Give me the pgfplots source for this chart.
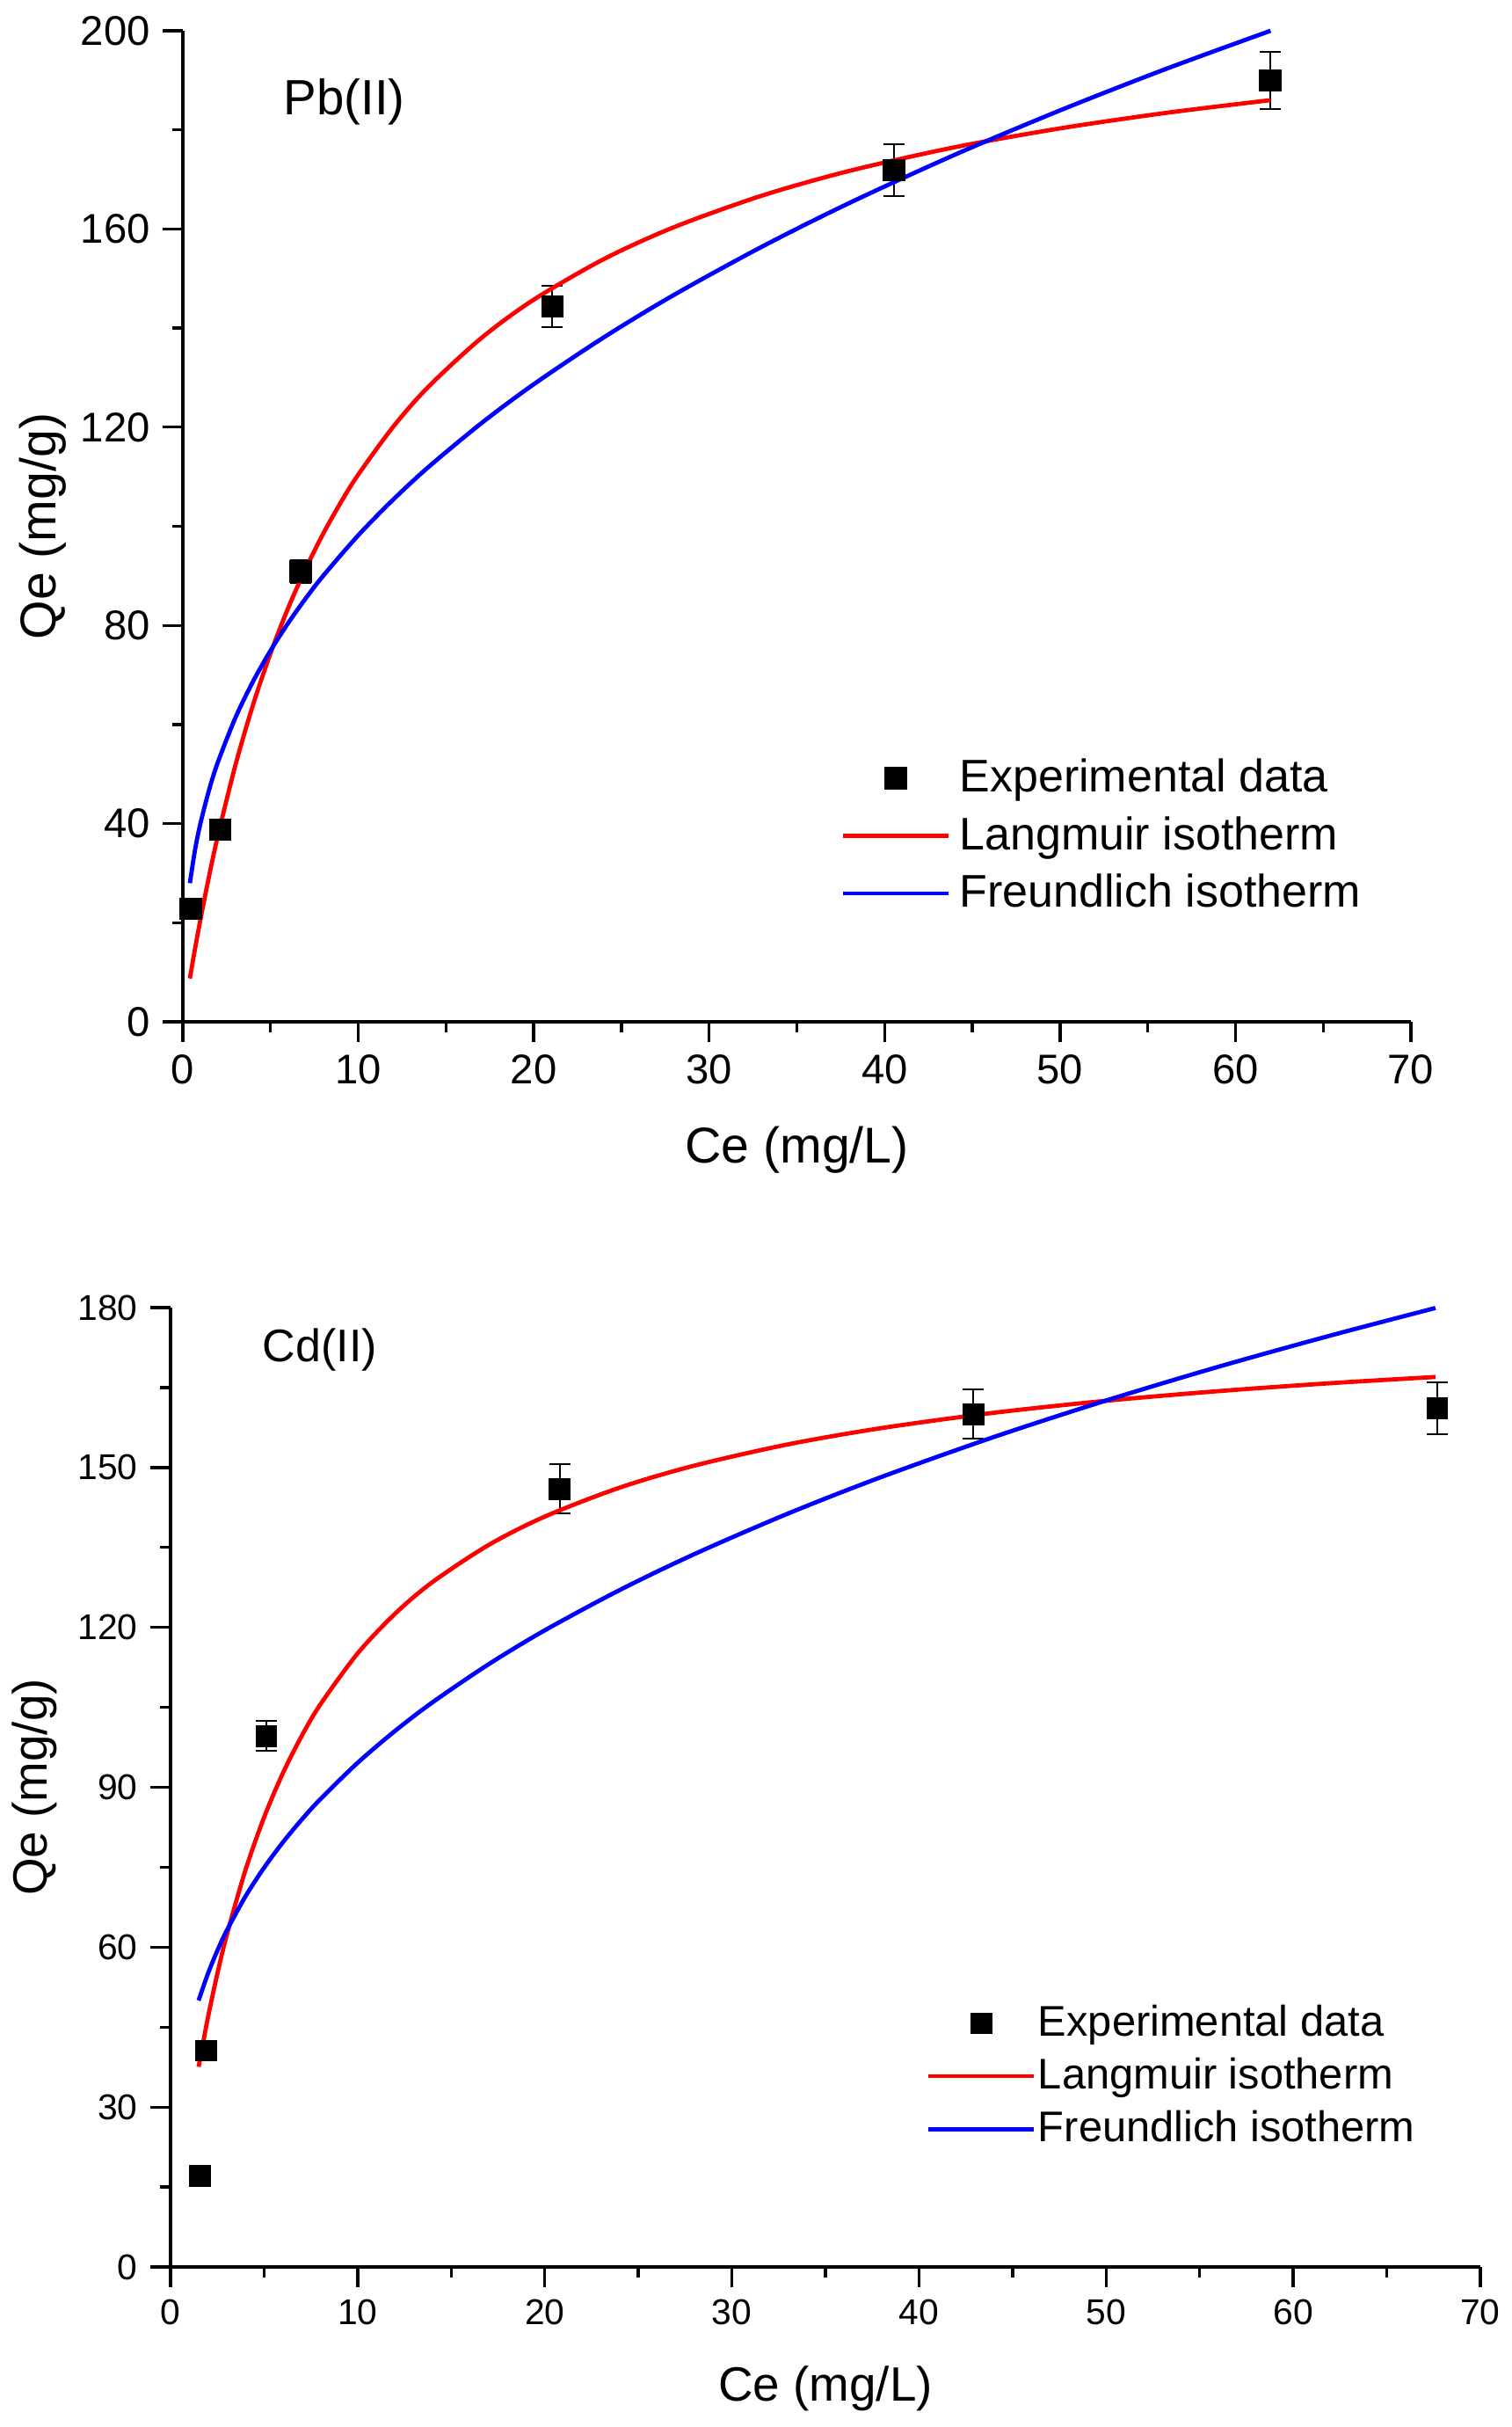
\documentclass[border=0pt]{standalone}
\usepackage{fontspec}
\setmainfont{Liberation Sans}
\usepackage{pgfplots}
\pgfplotsset{compat=1.18}

\pgfplotsset{
  isostyle/.style={
    scale only axis,
    axis x line*=bottom,
    axis y line*=left,
    axis line style={line width=0.83pt,-},
    every tick/.style={line width=0.83pt,black},
    tick align=outside,
    major tick length=5.8pt,
    minor tick length=3pt,
    minor tick num=1,
    xmin=0, xmax=70,
    xtick={0,10,...,70},
    clip=false,
    /pgf/number format/assume math mode=true,
    legend cell align=left,
    legend image code/.code={\draw[mark repeat=2,mark phase=2,#1] plot coordinates {(0pt,0pt) (15pt,0pt) (30pt,0pt)};},
  },
  exper/.style={only marks, mark=square*, mark size=#1, color=black,
    mark options={solid, fill=black, draw=black},
    error bars/.cd, y dir=both, y explicit,
    error bar style={line width=0.5pt,black},
    error mark options={rotate=90, mark size=3pt, line width=0.5pt, black}},
  exper/.default=3pt,
  lang/.style={no marks, smooth, line width=1.2pt, color={rgb,255:red,255;green,0;blue,0}},
  freu/.style={no marks, smooth, line width=1.2pt, color={rgb,255:red,0;green,0;blue,255}},
}

\begin{document}
\begin{tikzpicture}
\path[use as bounding box] (0,0) rectangle (430pt,-690pt);

% ---------------- Pb(II) ----------------
\begin{axis}[isostyle,
  at={(52pt,-290.5pt)}, anchor=south west,
  width=349.25pt, height=281.75pt,
  ymin=0, ymax=200, ytick={0,40,...,200},
  tick label style={font=\fontsize{11.8}{13}\selectfont},
  xlabel={Ce (mg/L)}, ylabel={Qe (mg/g)},
  label style={font=\fontsize{14.3}{16}\selectfont},
  xlabel style={at={(axis description cs:0.5,-0.1295)}, anchor=center},
  ylabel style={at={(axis description cs:-0.1138,0.5)}, anchor=center},
  legend style={draw=none, fill=none, at={(rel axis cs:0.5354,0.2730)}, anchor=north west,
    inner sep=0pt, row sep=1.45pt, column sep=0.5pt, font=\fontsize{13}{15}\selectfont},
]
\addplot[exper] coordinates {
  (0.44,22.8) +- (0,1.0)
  (2.12,38.8) +- (0,1.0)
  (6.70,90.9) +- (0,2.3)
  (21.07,144.4) +- (0,4.2)
  (40.55,171.9) +- (0,5.2)
  (61.98,190.0) +- (0,5.8)
};
\addlegendentry{Experimental data}
\addplot[lang] coordinates {
  (0.4,8.75) (0.7,14.85) (1,20.61) (1.5,29.49) (2,37.60) (3,51.84) (4,63.96)
  (5,74.40) (6,83.48) (7,91.45) (8,98.51) (9,104.8) (10,110.44) (12,120.13) (14,128.17)
  (17,137.95) (20,145.73) (24,153.93) (28,160.37) (33,166.72) (38,171.73)
  (44,176.50) (50,180.30) (56,183.41) (62,186.00)
};
\addlegendentry{Langmuir isotherm}
\addplot[freu] coordinates {
  (0.4,27.98) (0.7,34.80) (1,40.00) (1.5,46.85) (2,52.42) (3,61.40) (4,68.68)
  (5,74.92) (6,80.45) (7,85.44) (8,90.01) (10,98.19) (12,105.42) (14,111.96)
  (17,120.76) (20,128.66) (24,138.14) (28,146.71) (33,156.41) (38,165.26)
  (44,174.98) (50,183.93) (56,192.25) (62,200.00)
};
\addlegendentry{Freundlich isotherm}
\node[anchor=base west, font=\fontsize{14.1}{16}\selectfont, inner sep=0pt] at (axis cs:5.71,183.1) {Pb(II)};
\end{axis}

% ---------------- Cd(II) ----------------
\begin{axis}[isostyle,
  at={(48.5pt,-644.5pt)}, anchor=south west,
  width=372.5pt, height=272.75pt,
  ymin=0, ymax=180, ytick={0,30,...,180},
  tick label style={font=\fontsize{10.2}{12}\selectfont},
  xlabel={Ce (mg/L)}, ylabel={Qe (mg/g)},
  label style={font=\fontsize{13.7}{16}\selectfont},
  xlabel style={at={(axis description cs:0.5,-0.1265)}, anchor=center},
  ylabel style={at={(axis description cs:-0.104,0.5)}, anchor=center},
  legend style={draw=none, fill=none, at={(rel axis cs:0.5765,0.2810)}, anchor=north west,
    inner sep=0pt, row sep=0.7pt, column sep=-1.4pt, font=\fontsize{12.2}{14}\selectfont},
]
\addplot[exper=2.9pt] coordinates {
  (1.57,17.1) +- (0,0.5)
  (1.90,40.6) +- (0,1.0)
  (5.12,99.6) +- (0,2.8)
  (20.8,146.0) +- (0,4.6)
  (42.9,160.0) +- (0,4.6)
  (67.7,161.1) +- (0,4.8)
};
\addlegendentry{Experimental data}
\addplot[lang] coordinates {
  (1.5,37.56) (2,46.84) (2.5,54.99) (3,62.21) (4,74.43) (5,84.37) (6,92.62)
  (7,99.57) (8,105.51) (10,115.13) (12,122.57) (14,128.51) (17,135.46)
  (20,140.79) (24,146.22) (28,150.36) (33,154.34) (38,157.40) (44,160.27)
  (50,162.52) (56,164.33) (62,165.82) (67.6,166.99)
};
\addlegendentry{Langmuir isotherm}
\addplot[freu] coordinates {
  (1.5,50.00) (2,55.05) (2.5,59.34) (3,63.09) (4,69.51) (5,74.92) (6,79.66)
  (7,83.90) (8,87.75) (10,94.60) (12,100.58) (14,105.94) (17,113.09)
  (20,119.45) (24,127.00) (28,133.76) (33,141.36) (38,148.23) (44,155.72)
  (50,162.57) (56,168.90) (62,174.77) (67.6,179.93)
};
\addlegendentry{Freundlich isotherm}
\node[anchor=base west, font=\fontsize{13}{15}\selectfont, inner sep=0pt] at (axis cs:4.89,169.9) {Cd(II)};
\end{axis}
\end{tikzpicture}
\end{document}
